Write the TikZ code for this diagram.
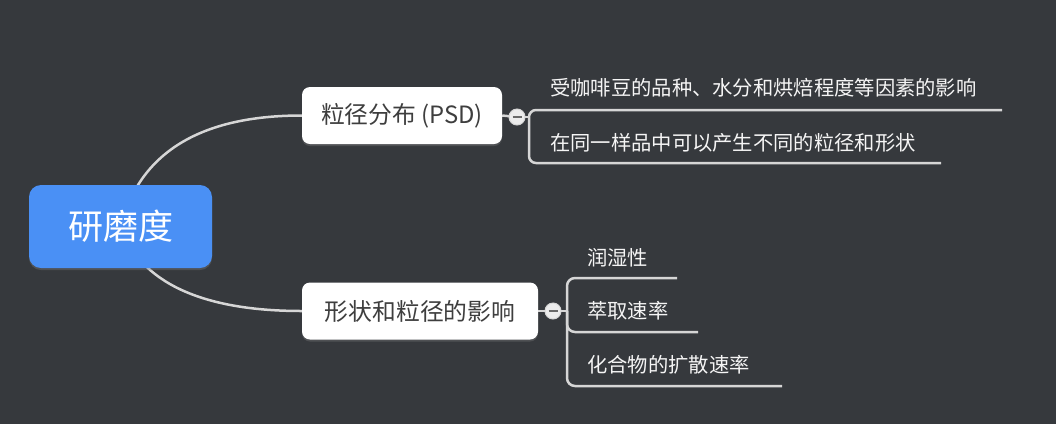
\documentclass[tikz,border=0pt]{standalone}
\usepackage{fontspec}
\setmainfont{Noto Sans CJK SC}
\usetikzlibrary{shadows}
\definecolor{bgc}{RGB}{54,57,61}
\definecolor{rootc}{RGB}{74,144,245}
\definecolor{linec}{RGB}{214,214,214}
\definecolor{nodetext}{RGB}{62,62,62}
\definecolor{leaftext}{RGB}{245,245,245}
\definecolor{togglefill}{RGB}{236,236,236}
\definecolor{minusc}{RGB}{105,105,105}
\pgfdeclarelayer{bg}
\pgfsetlayers{bg,main}
\begin{document}
\begin{tikzpicture}[x=1pt,y=-1pt,
  rootbox/.style={fill=rootc, rounded corners=12pt, minimum width=183pt, minimum height=83pt,
    text=white, font=\fontsize{35}{40}\selectfont, inner sep=0pt,
    drop shadow={opacity=0.35, shadow xshift=0pt, shadow yshift=-2pt}},
  topicbox/.style={fill=white, rounded corners=8pt, minimum height=57pt, text=nodetext,
    font=\fontsize{23.8}{28}\selectfont, inner sep=0pt,
    drop shadow={opacity=0.35, shadow xshift=0pt, shadow yshift=-2pt}},
  leaf/.style={anchor=west, text=leaftext, font=\fontsize{20.3}{24}\selectfont, inner sep=0pt},
  conn/.style={draw=linec, line width=2.5pt},
  toggle/.style={circle, fill=togglefill, draw=linec, line width=1pt, minimum size=16pt, inner sep=0pt},
  minusbar/.style={draw=minusc, line width=2.6pt},
]
\useasboundingbox (0,0) rectangle (1056,424);
% nodes
\node[rootbox] (root) at (120.5,226.5) {研磨度};
\node[topicbox, minimum width=200pt] (n1) at (402,115.5) {粒径分布 (PSD)};
\node[topicbox, minimum width=236pt] (n2) at (420,311) {形状和粒径的影响};
\node[toggle] (c1) at (517,117) {};
\node[toggle] (c2) at (553,311) {};
\draw[minusbar] ([xshift=-4.5pt]c1.center) -- ([xshift=4.5pt]c1.center);
\draw[minusbar] ([xshift=-4.5pt]c2.center) -- ([xshift=4.5pt]c2.center);
% leaves
\node[leaf] (t11) at (550,88) {受咖啡豆的品种、水分和烘焙程度等因素的影响};
\node[leaf] (t12) at (550,143) {在同一样品中可以产生不同的粒径和形状};
\node[leaf] (t21) at (587,258) {润湿性};
\node[leaf] (t22) at (587,311) {萃取速率};
\node[leaf] (t23) at (587,365) {化合物的扩散速率};
% coordinates
\coordinate (b1) at (529,117);
\coordinate (v1) at (529,140);
\coordinate (e11) at (1002,110);
\coordinate (e12) at (941,163);
\coordinate (b2) at (567,311);
\coordinate (v2) at (567,330);
\coordinate (e21) at (677,278);
\coordinate (e22) at (698,332);
\coordinate (e23) at (782,386);
\begin{pgfonlayer}{bg}
\fill[bgc] (0,0) rectangle (1056,424);
\draw[conn] (root.center) .. controls (140,152) and (201,115.5) .. (n1.west);
\draw[conn] (root.center) .. controls (140,282) and (201,311) .. (n2.west);
\draw[conn] (n1.east) -- (c1.center);
\draw[conn] (n2.east) -- (c2.center);
\draw[conn] (c1.center) -- (b1);
\draw[conn] (c2.center) -- (b2);
\draw[conn, rounded corners=7pt] (e11) -| (v1) |- (e12);
\draw[conn, rounded corners=8pt] (e21) -| (v2) |- (e23);
\draw[conn, rounded corners=8pt] (b2) |- (e22);
\end{pgfonlayer}
\end{tikzpicture}
\end{document}
